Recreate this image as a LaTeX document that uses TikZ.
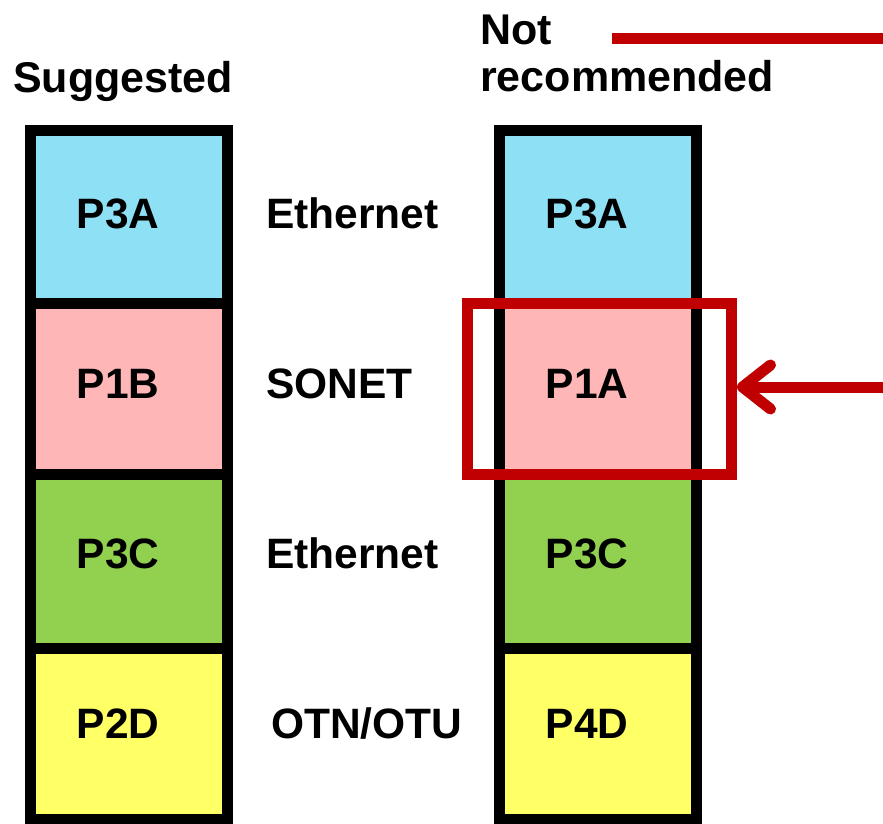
\documentclass[tikz,border=0pt]{standalone}
\usepackage{fontspec}
\setmainfont{Liberation Sans}
\usepackage{xcolor}
\usepackage{tikz}
\usetikzlibrary{arrows.meta, positioning, calc}
\definecolor{LayerBlue}{HTML}{8EE0F4}
\definecolor{LayerPink}{HTML}{FFB6B6}
\definecolor{LayerGreen}{HTML}{92D050}
\definecolor{LayerYellow}{HTML}{FFFF66}
\definecolor{WarnRed}{HTML}{C00000}
\tikzset{
  layer/.style={draw=black, line width=11pt, minimum width=197pt, inner sep=0pt},
  txt/.style={font=\bfseries\fontsize{42.5}{48}\selectfont, inner sep=0pt},
  head/.style={font=\bfseries\fontsize{43}{48}\selectfont, inner sep=0pt, anchor=base west},
  warnbox/.style={draw=WarnRed, line width=11pt, minimum width=264pt, minimum height=171pt, inner sep=0pt},
  warnline/.style={draw=WarnRed, line width=11pt},
}

\begin{document}
\begin{tikzpicture}[x=1pt, y=-1pt]
                \useasboundingbox (0,0) rectangle (883,824);
                % headings
                \node[head] (sugg) at (13,93) {Suggested};
                \node[head] (nottxt) at (480,45) {Not};
                \node[head] (rectxt) at (480,92) {recommended};
                % suggested stack
                \node[layer, fill=LayerBlue, minimum height=173pt] (s1) at (129,217) {};
                \node[layer, fill=LayerPink, minimum height=171pt] (s2) at (129,389) {};
                \node[layer, fill=LayerGreen, minimum height=174pt] (s3) at (129,561) {};
                \node[layer, fill=LayerYellow, minimum height=171pt] (s4) at (129,733.5) {};
                \node[txt, anchor=base] (s1l) at (118,228) {P3A};
                \node[txt, anchor=base] (s2l) at (118,398) {P1B};
                \node[txt, anchor=base] (s3l) at (118,568) {P3C};
                \node[txt, anchor=base] (s4l) at (118,738) {P2D};
                % not recommended stack
                \node[layer, fill=LayerBlue, minimum height=173pt] (r1) at (597.5,217) {};
                \node[layer, fill=LayerPink, minimum height=171pt] (r2) at (597.5,389) {};
                \node[layer, fill=LayerGreen, minimum height=174pt] (r3) at (597.5,561) {};
                \node[layer, fill=LayerYellow, minimum height=171pt] (r4) at (597.5,733.5) {};
                \node[txt, anchor=base] (r1l) at (587,228) {P3A};
                \node[txt, anchor=base] (r2l) at (587,398) {P1A};
                \node[txt, anchor=base] (r3l) at (587,568) {P3C};
                \node[txt, anchor=base] (r4l) at (587,738) {P4D};
                % protocols between the stacks
                \node[txt, anchor=base west] (p1) at (266,228) {Ethernet};
                \node[txt, anchor=base west] (p2) at (266,398) {SONET};
                \node[txt, anchor=base west] (p3) at (266,568) {Ethernet};
                \node[txt, anchor=base west] (p4) at (271,738) {OTN/OTU};
                % the layer that is flagged
                \node[warnbox] (warn) at (599.5,389) {};
                \coordinate (tail) at (890,387);
                \draw[warnline, -{Straight Barb[length=28pt, width=44pt, line cap=round, line join=round]}] (tail) -- (tail -| warn.east);
                \coordinate (keyA) at (612,39);
                \coordinate (keyB) at (890,39);
                \draw[warnline] (keyA) -- (keyB);
            \end{tikzpicture}
\end{document}
